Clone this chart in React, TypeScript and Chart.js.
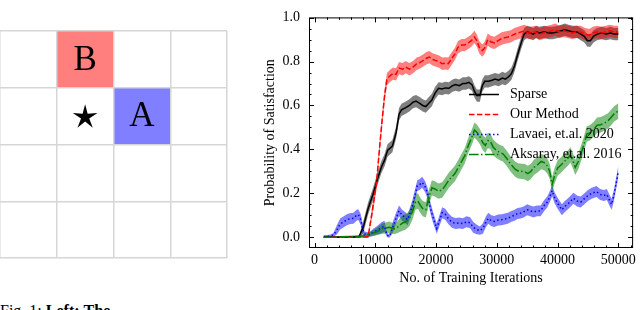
import React, { useEffect, useRef } from "react";
import { Chart, registerables } from "chart.js";

Chart.register(...registerables);

const SERIF = "'Liberation Serif', 'Times New Roman', serif";

// ---------------- data ----------------
const seriesNames = ["Sparse", "Our Method", "Lavaei, et.al. 2020", "Aksaray, et.al. 2016"];

const sparse: [number, number][] = [
  [1500, 0], [3000, 0], [5000, 0], [7300, 0.002], [8000, 0.045], [8800, 0.13], [9600, 0.195],
  [10400, 0.27], [11000, 0.32], [11500, 0.35], [12000, 0.395], [12800, 0.415], [13400, 0.475],
  [13900, 0.56], [14300, 0.58], [15000, 0.59], [15600, 0.6], [16200, 0.615], [16700, 0.62],
  [17300, 0.61], [17800, 0.6], [18300, 0.595], [18800, 0.61], [19300, 0.625], [19800, 0.655],
  [20400, 0.678], [21000, 0.675], [21500, 0.68], [22100, 0.678], [22700, 0.69], [23200, 0.695],
  [23800, 0.69], [24400, 0.7], [24900, 0.7], [25400, 0.705], [25900, 0.695], [26300, 0.665],
  [26700, 0.645], [27200, 0.645], [27600, 0.69], [28000, 0.71], [28600, 0.71], [29200, 0.715],
  [29700, 0.72], [30300, 0.715], [30900, 0.725], [31400, 0.72], [31900, 0.73], [32400, 0.745],
  [32900, 0.78], [33400, 0.83], [34000, 0.885], [34500, 0.925], [35000, 0.935], [35500, 0.93],
  [36000, 0.925], [36500, 0.935], [37000, 0.93], [37800, 0.935], [38500, 0.93], [39200, 0.93],
  [40000, 0.935], [40600, 0.94], [41200, 0.945], [41800, 0.94], [42500, 0.935], [43200, 0.935],
  [43800, 0.925], [44400, 0.915], [44900, 0.895], [45400, 0.895], [45900, 0.915], [46500, 0.925],
  [47200, 0.93], [48000, 0.925], [48700, 0.93], [49300, 0.925], [50000, 0.925],
];

const ourMethod: [number, number][] = [
  [1500, 0], [3000, 0], [5000, 0], [7000, 0], [8800, 0.002], [9500, 0.12], [10200, 0.25],
  [10700, 0.41], [11100, 0.53], [11500, 0.64], [11900, 0.72], [12400, 0.735], [12900, 0.745],
  [13400, 0.742], [13900, 0.77], [14500, 0.765], [15000, 0.775], [15600, 0.765], [16200, 0.775],
  [16800, 0.79], [17300, 0.795], [17900, 0.805], [18400, 0.815], [18900, 0.82], [19400, 0.81],
  [19900, 0.805], [20500, 0.8], [21000, 0.79], [21500, 0.792], [22000, 0.79], [22600, 0.815],
  [23100, 0.835], [23600, 0.865], [24200, 0.875], [24700, 0.875], [25300, 0.885], [25800, 0.895],
  [26300, 0.912], [26700, 0.895], [27100, 0.865], [27600, 0.85], [28000, 0.862], [28500, 0.9],
  [29000, 0.89], [29600, 0.885], [30200, 0.895], [30800, 0.905], [31500, 0.91], [32300, 0.915],
  [32900, 0.925], [33500, 0.93], [34500, 0.94], [35200, 0.93], [35800, 0.932], [36400, 0.935],
  [37000, 0.925], [37600, 0.93], [38300, 0.935], [39000, 0.94], [39600, 0.945], [40300, 0.935],
  [41000, 0.94], [41700, 0.935], [42400, 0.93], [43100, 0.935], [43800, 0.935], [44500, 0.925],
  [45200, 0.92], [45800, 0.93], [46500, 0.935], [47200, 0.93], [47900, 0.935], [48600, 0.94],
  [49300, 0.935], [50000, 0.935],
];

const lavaei: [number, number][] = [
  [1500, 0.003], [2500, 0.005], [3100, 0.01], [3700, 0.035], [4200, 0.06], [4800, 0.07],
  [5300, 0.08], [5900, 0.085], [6400, 0.086], [6900, 0.1], [7200, 0.103], [7600, 0.08],
  [7900, 0.04], [8200, 0.015], [9000, 0.012], [9600, 0.022], [10200, 0.03], [11000, 0.043],
  [11500, 0.05], [11900, 0.01], [12300, 0.004], [12800, 0.04], [13400, 0.086], [13900, 0.12],
  [14400, 0.1], [14800, 0.092], [15300, 0.08], [15700, 0.11], [16100, 0.144], [16600, 0.2],
  [16900, 0.235], [17300, 0.24], [17700, 0.25], [18200, 0.23], [18600, 0.2], [19000, 0.14],
  [19500, 0.09], [20100, 0.04], [20600, 0.08], [21000, 0.112], [21500, 0.105], [22000, 0.085],
  [22600, 0.068], [23200, 0.063], [23800, 0.065], [24400, 0.062], [25000, 0.07], [25600, 0.066],
  [26100, 0.045], [26700, 0.035], [27200, 0.03], [27700, 0.04], [28200, 0.07], [28600, 0.086],
  [29100, 0.075], [29600, 0.072], [30200, 0.078], [30800, 0.08], [31300, 0.083], [31800, 0.086],
  [32400, 0.095], [32900, 0.1], [33400, 0.108], [33900, 0.11], [34400, 0.115], [35000, 0.125],
  [35500, 0.12], [36000, 0.115], [36600, 0.12], [37200, 0.12], [37800, 0.145], [38300, 0.16],
  [38800, 0.19], [39100, 0.212], [39500, 0.18], [40000, 0.155], [40700, 0.125], [41200, 0.14],
  [41800, 0.155], [42600, 0.178], [43200, 0.165], [43800, 0.16], [44500, 0.178], [45000, 0.19],
  [45600, 0.2], [46400, 0.208], [47000, 0.195], [47600, 0.19], [48100, 0.195], [48600, 0.165],
  [48900, 0.15], [49300, 0.195], [49600, 0.24], [50000, 0.3],
];

const aksaray: [number, number][] = [
  [1500, 0], [3000, 0], [5000, 0.002], [7000, 0.003], [8500, 0.008], [9500, 0.018], [10200, 0.025],
  [11200, 0.04], [12300, 0.045], [13100, 0.038], [13600, 0.045], [14000, 0.055], [14500, 0.065],
  [15000, 0.07], [15600, 0.085], [16100, 0.115], [16600, 0.16], [17000, 0.165], [17400, 0.145],
  [17800, 0.13], [18300, 0.125], [18800, 0.18], [19300, 0.225], [19800, 0.22], [20400, 0.21],
  [21000, 0.215], [21500, 0.235], [22100, 0.26], [22600, 0.275], [23100, 0.29], [23700, 0.32],
  [24200, 0.345], [24700, 0.37], [25300, 0.418], [25800, 0.45], [26300, 0.488], [26700, 0.478],
  [27200, 0.458], [27700, 0.43], [28100, 0.418], [28500, 0.44], [28900, 0.438], [29400, 0.41],
  [29900, 0.396], [30500, 0.385], [31000, 0.38], [31600, 0.36], [32300, 0.332], [33000, 0.31],
  [33500, 0.302], [34100, 0.3], [34600, 0.298], [35100, 0.29], [35600, 0.3], [36100, 0.318],
  [36700, 0.33], [37300, 0.345], [37800, 0.34], [38300, 0.325], [38700, 0.3], [39100, 0.24],
  [39500, 0.28], [40000, 0.315], [40600, 0.33], [41100, 0.345], [41700, 0.36], [42100, 0.375],
  [42500, 0.35], [42900, 0.318], [43400, 0.345], [43800, 0.378], [44300, 0.42], [44800, 0.47],
  [45300, 0.475], [45900, 0.49], [46500, 0.51], [47100, 0.512], [47700, 0.52], [48300, 0.53],
  [48800, 0.545], [49300, 0.562], [50000, 0.575],
];

const seriesData = [sparse, ourMethod, lavaei, aksaray];
// half-width of the shaded spread band of each series
const bandHalfWidth = [0.028, 0.028, 0.025, 0.035];

const xTickValues = [0, 10000, 20000, 30000, 40000, 50000];
const xTickLabels = ["0", "10000", "20000", "30000", "40000", "50000"];
const yTickValues = [0, 0.2, 0.4, 0.6, 0.8, 1.0];
const yTickLabels = ["0.0", "0.2", "0.4", "0.6", "0.8", "1.0"];
const xMinorStep = 2000;
const yMinorStep = 0.05;
const xLabel = "No. of Training Iterations";
const yLabel = "Probability of Satisfaction";

// gridworld
const gridTicks = [0, 1, 2, 3, 4];
const gridCells = [
  { col: 1, row: 0, label: "B", color: "rgba(255,0,0,0.5)" },
  { col: 2, row: 1, label: "A", color: "rgba(0,0,255,0.5)" },
];
const starCells = [{ col: 1, row: 1 }];

// ---------------- styles ----------------
const lineColors = ["#000000", "#ff0000", "#0000ff", "#008000"];
const bandColors = ["rgba(0,0,0,0.5)", "rgba(255,0,0,0.5)", "rgba(0,0,255,0.5)", "rgba(0,128,0,0.5)"];
const lineDashes = [[], [5.5, 2.4], [1.5, 2.5], [9.6, 2.4, 1.5, 2.4]];
const LINE_W = 1.5;

const LEG = { x0: 219, x1: 249, tx: 260, y0: 94.5, dy: 20 };

function bandHw(y: number, hw: number) {
  return Math.min(hw, 0.004 + 0.5 * Math.max(y, 0));
}

function plotConfig(): any {
  const datasets: any[] = [];
  seriesData.forEach((s, i) => {
    const hw = bandHalfWidth[i];
    datasets.push({
      label: seriesNames[i] + " upper",
      data: s.map(([x, y]) => ({ x, y: y + bandHw(y, hw) })),
      borderColor: "rgba(0,0,0,0)",
      borderWidth: 0,
      pointRadius: 0,
      backgroundColor: bandColors[i],
      fill: "+1",
      order: 40 - i * 5,
    });
    datasets.push({
      label: seriesNames[i] + " lower",
      data: s.map(([x, y]) => ({ x, y: y - bandHw(y, hw) })),
      borderColor: "rgba(0,0,0,0)",
      borderWidth: 0,
      pointRadius: 0,
      fill: false,
      order: 40 - i * 5,
    });
  });
  seriesData.forEach((s, i) => {
    datasets.push({
      label: seriesNames[i],
      data: s.map(([x, y]) => ({ x, y })),
      borderColor: lineColors[i],
      borderWidth: LINE_W,
      borderDash: lineDashes[i],
      pointRadius: 0,
      fill: false,
      tension: 0,
      order: 4 - i,
    });
  });

  const tickFont = { family: SERIF, size: 14 };

  const sciPlugin = {
    id: "sciAxes",
    afterDatasetsDraw(chart: any) {
      const { ctx, chartArea: a, scales } = chart;
      const xs = scales.x;
      const ys = scales.y;
      ctx.save();
      ctx.strokeStyle = "#000";
      ctx.lineWidth = 1;
      ctx.setLineDash([]);
      ctx.beginPath();
      const xt = (v: number, len: number) => {
        const p = Math.round(xs.getPixelForValue(v)) + 0.5;
        if (p < a.left || p > a.right) return;
        ctx.moveTo(p, a.bottom);
        ctx.lineTo(p, a.bottom - len);
        ctx.moveTo(p, a.top);
        ctx.lineTo(p, a.top + len);
      };
      const yt = (v: number, len: number) => {
        const p = Math.round(ys.getPixelForValue(v)) + 0.5;
        if (p < a.top || p > a.bottom) return;
        ctx.moveTo(a.left, p);
        ctx.lineTo(a.left + len, p);
        ctx.moveTo(a.right, p);
        ctx.lineTo(a.right - len, p);
      };
      xTickValues.forEach((v) => xt(v, 5));
      for (let k = 0; k * xMinorStep <= xs.max; k++) {
        const v = k * xMinorStep;
        if (xTickValues.indexOf(v) < 0) xt(v, 2.5);
      }
      yTickValues.forEach((v) => yt(v, 5));
      for (let k = 0; k * yMinorStep <= ys.max; k++) {
        const v = +(k * yMinorStep).toFixed(3);
        if (!yTickValues.some((t) => Math.abs(t - v) < 1e-6)) yt(v, 2.5);
      }
      ctx.stroke();
      ctx.strokeRect(a.left + 0.5, a.top + 0.5, a.right - a.left - 1, a.bottom - a.top - 1);
      ctx.restore();
    },
    afterDraw(chart: any) {
      const { ctx } = chart;
      ctx.save();
      seriesNames.forEach((name, i) => {
        const y = LEG.y0 + i * LEG.dy;
        ctx.beginPath();
        ctx.strokeStyle = lineColors[i];
        ctx.lineWidth = LINE_W;
        ctx.setLineDash(lineDashes[i]);
        ctx.moveTo(LEG.x0, y);
        ctx.lineTo(LEG.x1, y);
        ctx.stroke();
        ctx.setLineDash([]);
        ctx.fillStyle = "#000";
        ctx.font = `14px ${SERIF}`;
        ctx.textAlign = "left";
        ctx.textBaseline = "middle";
        ctx.fillText(name, LEG.tx, y);
      });
      ctx.restore();
    },
  };

  return {
    type: "line",
    data: { datasets },
    options: {
      animation: false,
      responsive: false,
      events: [],
      parsing: true,
      layout: { padding: { top: 5, right: 3, left: 0, bottom: 0 } },
      plugins: {
        legend: { display: false },
        tooltip: { enabled: false },
        filler: { drawTime: "beforeDatasetsDraw" },
      },
      scales: {
        x: {
          type: "linear",
          min: -925,
          max: 52425,
          afterBuildTicks: (s: any) => {
            s.ticks = xTickValues.map((v) => ({ value: v }));
          },
          afterFit: (s: any) => {
            s.height = 42;
          },
          ticks: {
            autoSkip: false,
            maxRotation: 0,
            padding: 4,
            font: tickFont,
            color: "#000",
            callback: (v: number) => {
              const i = xTickValues.indexOf(v);
              return i >= 0 ? xTickLabels[i] : "";
            },
          },
          grid: { display: false, drawTicks: false },
          border: { display: false },
          title: {
            display: true,
            text: xLabel,
            color: "#000",
            font: { family: SERIF, size: 14 },
            padding: { top: 0, bottom: 3.6 },
          },
        },
        y: {
          type: "linear",
          min: -0.049,
          max: 1.001,
          afterBuildTicks: (s: any) => {
            s.ticks = yTickValues.map((v) => ({ value: v }));
          },
          afterFit: (s: any) => {
            s.width = 59;
          },
          ticks: {
            autoSkip: false,
            padding: 9,
            font: tickFont,
            color: "#000",
            callback: (v: number) => {
              const i = yTickValues.findIndex((t) => Math.abs(t - v) < 1e-6);
              return i >= 0 ? yTickLabels[i] : "";
            },
          },
          grid: { display: false, drawTicks: false },
          border: { display: false },
          title: {
            display: true,
            text: yLabel,
            color: "#000",
            font: { family: SERIF, size: 14 },
            padding: { top: 11.6, bottom: 0 },
          },
        },
      },
    },
    plugins: [sciPlugin],
  };
}

function gridConfig(): any {
  const cellRect = (chart: any, col: number, row: number) => {
    const xs = chart.scales.x;
    const ys = chart.scales.y;
    const x0 = xs.getPixelForValue(col);
    const x1 = xs.getPixelForValue(col + 1);
    const y0 = ys.getPixelForValue(row);
    const y1 = ys.getPixelForValue(row + 1);
    return { x: Math.min(x0, x1), y: Math.min(y0, y1), w: Math.abs(x1 - x0), h: Math.abs(y1 - y0) };
  };
  const gridPlugin = {
    id: "gridworld",
    beforeDraw(chart: any) {
      const { ctx } = chart;
      ctx.save();
      gridCells.forEach((c) => {
        const r = cellRect(chart, c.col, c.row);
        ctx.fillStyle = c.color;
        ctx.fillRect(r.x, r.y, r.w, r.h);
      });
      ctx.restore();
    },
    afterDraw(chart: any) {
      const { ctx } = chart;
      ctx.save();
      ctx.fillStyle = "#000";
      ctx.font = `35px ${SERIF}`;
      ctx.textAlign = "center";
      ctx.textBaseline = "middle";
      gridCells.forEach((c) => {
        const r = cellRect(chart, c.col, c.row);
        ctx.fillText(c.label, r.x + r.w / 2, r.y + r.h / 2 + 1);
      });
      starCells.forEach((c) => {
        const r = cellRect(chart, c.col, c.row);
        const cx = r.x + r.w / 2;
        const cy = r.y + r.h / 2 + 1;
        const R = 13;
        const ri = 4.3;
        ctx.beginPath();
        for (let k = 0; k < 10; k++) {
          const ang = -Math.PI / 2 + (k * Math.PI) / 5;
          const rad = k % 2 === 0 ? R : ri;
          const px = cx + rad * Math.cos(ang);
          const py = cy + rad * Math.sin(ang);
          if (k === 0) ctx.moveTo(px, py);
          else ctx.lineTo(px, py);
        }
        ctx.closePath();
        ctx.fill();
      });
      ctx.restore();
    },
  };
  const axis = (reverse: boolean) => ({
    type: "linear",
    min: 0,
    max: 4,
    reverse,
    afterBuildTicks: (s: any) => {
      s.ticks = gridTicks.map((v) => ({ value: v }));
    },
    ticks: { display: false },
    grid: { color: "#d6d6d6", lineWidth: 1.5, drawTicks: false },
    border: { display: false },
  });
  return {
    type: "scatter",
    data: {
      datasets: [
        {
          data: gridCells.map((c) => ({ x: c.col + 0.5, y: c.row + 0.5 })),
          pointRadius: 0,
        },
      ],
    },
    options: {
      animation: false,
      responsive: false,
      events: [],
      layout: { padding: 1 },
      plugins: { legend: { display: false }, tooltip: { enabled: false } },
      scales: { x: axis(false), y: axis(true) },
    },
    plugins: [gridPlugin],
  };
}

export default function App() {
  const gridRef = useRef<HTMLCanvasElement>(null);
  const plotRef = useRef<HTMLCanvasElement>(null);
  useEffect(() => {
    const g = new Chart(gridRef.current as HTMLCanvasElement, gridConfig());
    const p = new Chart(plotRef.current as HTMLCanvasElement, plotConfig());
    return () => {
      g.destroy();
      p.destroy();
    };
  }, []);
  return (
    <div
      style={{
        position: "absolute",
        left: 0,
        top: 0,
        width: 640,
        height: 310,
        overflow: "hidden",
        background: "#fff",
      }}
    >
      <canvas
        ref={gridRef}
        width={229}
        height={229}
        style={{ position: "absolute", left: -1, top: 30, width: 229, height: 229 }}
      />
      <canvas
        ref={plotRef}
        width={390}
        height={290}
        style={{ position: "absolute", left: 250, top: 0, width: 390, height: 290 }}
      />
      <div
        style={{
          position: "absolute",
          left: 0,
          top: 303,
          font: `16px ${SERIF}`,
          lineHeight: 1,
          whiteSpace: "nowrap",
          color: "#000",
        }}
      >
        Fig. 1: <b>Left:</b> <b>The</b>
      </div>
    </div>
  );
}
